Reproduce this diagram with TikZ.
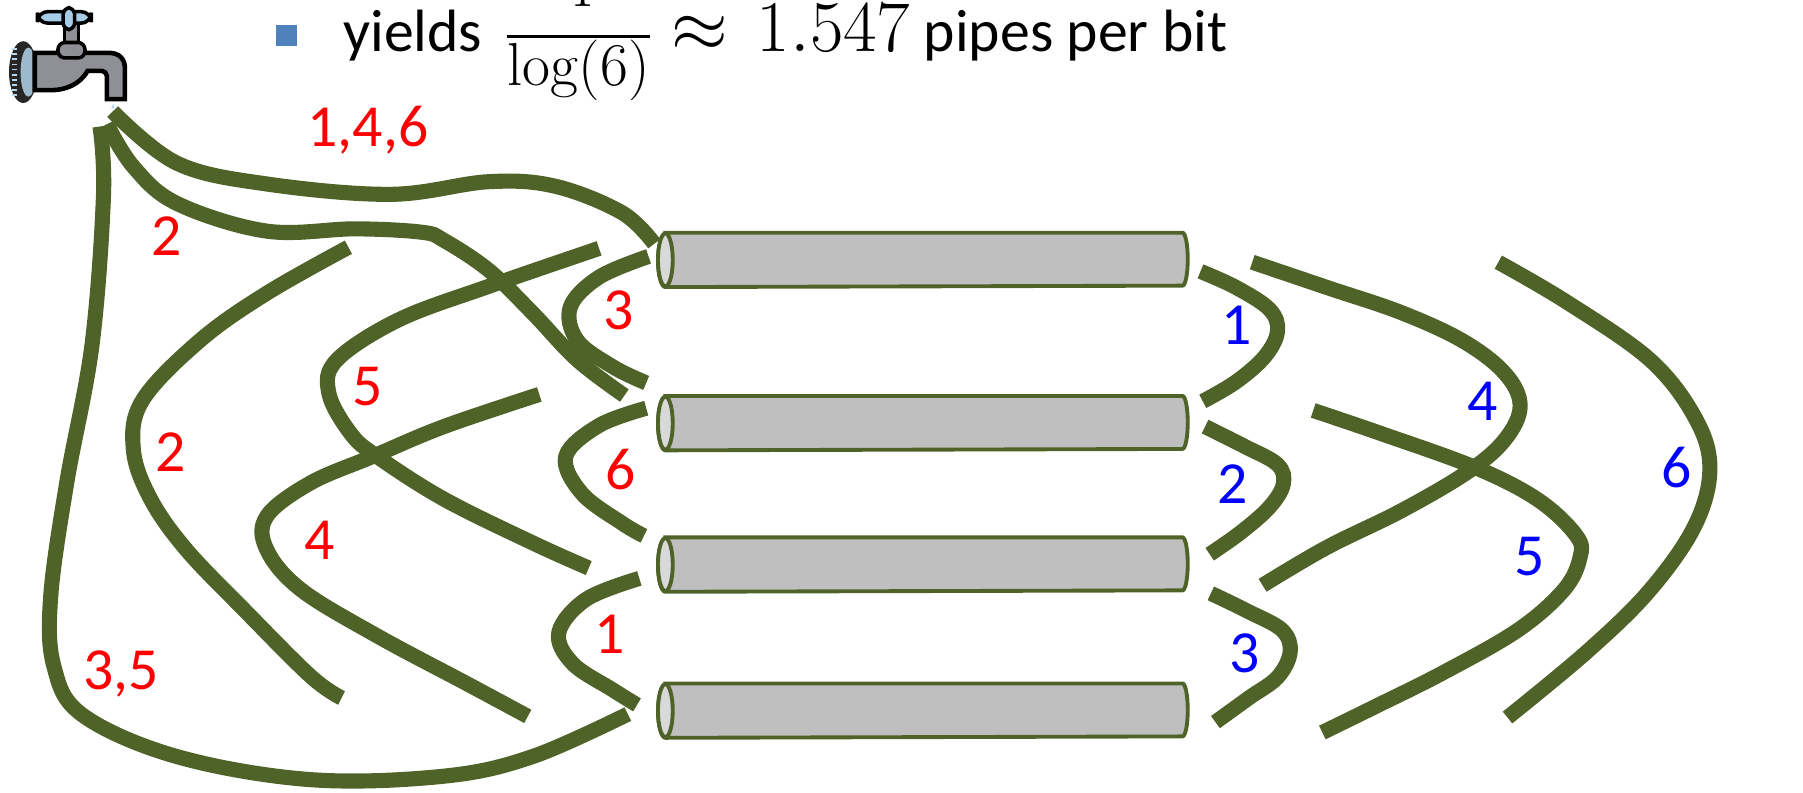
\documentclass[tikz,border=0pt]{standalone}
\usepackage{amsmath}
\usepackage[no-math]{fontspec}
\setmainfont{Carlito}

\definecolor{hosegreen}{RGB}{79,98,40}
\definecolor{pipegray}{RGB}{191,191,191}
\definecolor{pipeend}{RGB}{217,217,217}
\definecolor{bulletblue}{RGB}{79,129,189}
\definecolor{tapgray}{RGB}{142,144,150}
\definecolor{tapblue}{RGB}{166,204,232}

\tikzset{
  hose/.style={draw=hosegreen, line width=4.3pt},
  pipebox/.style={minimum width=5.16cm, minimum height=0.53cm, inner sep=0pt},
  pipeedge/.style={draw=hosegreen, line width=1.1pt},
  inlabel/.style={text=red},
  outlabel/.style={text=blue},
}

\begin{document}
\begin{tikzpicture}[x=0.0115cm, y=-0.0115cm, font=\fontsize{17}{20}\selectfont]
  \useasboundingbox (0,0) rectangle (1568,689);

  % tap
  \begin{scope}[scale=1.12]
    \fill[black!85] (18,56) ellipse[x radius=11, y radius=24];
    \foreach \v in {38,42,...,74} \draw[tapblue!80, line width=0.5pt] (9,\v) -- (13,\v);
    \fill[tapblue!75!gray] (22,56) ellipse[x radius=6, y radius=19];
    \draw[fill=tapgray, line width=1.3pt] (27,41) -- (84,41) .. controls (93,41) and (97,46) .. (97,53)
      -- (97,77) -- (83,77) -- (83,59) .. controls (83,57) and (81,55) .. (79,55) -- (68,55)
      .. controls (62,66) and (50,70) .. (40,70) -- (27,70) -- cycle;
    \draw[fill=tapgray, line width=1pt] (50,18) rectangle (61,38);
    \draw[fill=tapgray, line width=1pt, rounded corners=2pt] (45,33) rectangle (66,45);
    \draw[fill=tapblue, line width=1pt, rounded corners=3pt] (29,9) rectangle (71,18);
    \draw[fill=tapblue, line width=1pt, rounded corners=2pt] (49,6) rectangle (58,23);
    \fill[tapblue!80] (88,80) -- (89,85) arc[start angle=0, end angle=-180, radius=1.3] -- cycle;
  \end{scope}

  % heading
  \fill[bulletblue] (240,22) rectangle (258,40);
  \node[anchor=base west, inner sep=0pt] (yields) at (298,45)
    {yields\hspace{0.35em}{\fontsize{18}{20}\selectfont
     \(\genfrac{}{}{}{1}{\raisebox{6pt}{\(\displaystyle 4\)}}{\displaystyle\log(6)}\)}\hspace{0.3em}%
     {\fontsize{21}{24}\selectfont\(\approx\mkern2mu 1.547\)} pipes per bit};

  % hoses on the left
  \draw[hose] plot[smooth, tension=0.6] coordinates {(98,97) (154,142) (232,160) (340,169) (425,158) (483,162) (541,185) (569,212)};
  \draw[hose] plot[smooth, tension=0.6] coordinates {(93,108) (116,145) (154,177) (232,201) (309,199) (367,202) (386,209) (425,235) (463,272) (502,313) (543,344)};
  \draw[hose] plot[smooth, tension=0.6] coordinates {(87,110) (90,170) (80,300) (58,420) (44,520) (47,580) (72,622) (154,658) (270,678) (386,675) (463,658) (546,621)};
  \draw[hose] plot[smooth, tension=0.6] coordinates {(303,215) (232,255) (174,296) (124,348) (116,391) (131,434) (162,478) (212,530) (270,588) (297,607)};
  \draw[hose] plot[smooth, tension=0.6] coordinates {(521,216) (425,249) (347,278) (293,313) (286,342) (305,377) (328,397) (386,434) (463,472) (512,494)};
  \draw[hose] plot[smooth, tension=0.6] coordinates {(469,343) (386,371) (324,397) (270,420) (232,449) (232,478) (262,513) (328,553) (405,594) (459,623)};
  \draw[hose] plot[smooth, tension=0.6] coordinates {(564,223) (521,241) (496,267) (502,296) (533,319) (562,333)};
  \draw[hose] plot[smooth, tension=0.6] coordinates {(562,355) (521,370) (492,397) (506,429) (541,455) (560,466)};
  \draw[hose] plot[smooth, tension=0.6] coordinates {(556,503) (510,521) (486,550) (498,577) (533,600) (554,613)};

  % hoses on the right
  \draw[hose] plot[smooth, tension=0.6] coordinates {(1044,236) (1075,250) (1104,269) (1111,288) (1100,310) (1075,332) (1046,349)};
  \draw[hose] plot[smooth, tension=0.6] coordinates {(1048,371) (1082,388) (1111,404) (1116,421) (1104,441) (1079,463) (1052,482)};
  \draw[hose] plot[smooth, tension=0.6] coordinates {(1053,516) (1086,532) (1115,548) (1122,567) (1111,589) (1086,607) (1057,628)};
  \draw[hose] plot[smooth, tension=0.6] coordinates {(1089,228) (1154,250) (1219,272) (1273,297) (1309,325) (1322,353) (1309,382) (1277,410) (1219,444) (1154,476) (1098,509)};
  \draw[hose] plot[smooth, tension=0.6] coordinates {(1142,357) (1201,377) (1284,407) (1338,435) (1371,466) (1374,485) (1360,513) (1320,548) (1255,585) (1197,614) (1150,637)};
  \draw[hose] plot[smooth, tension=0.6] coordinates {(1303,228) (1363,263) (1435,313) (1474,363) (1487,407) (1474,457) (1435,513) (1381,566) (1311,624)};

  % pipes
  \foreach \y/\name in {226/p1, 368/p2, 491/p3, 618/p4} {
    \node[pipebox] (\name) at (803.5,\y) {};
    \draw[pipeedge, fill=pipegray] (\name.north west) -- (\name.north east)
      arc[start angle=90, end angle=-90, x radius=1.5pt, y radius=0.265cm]
      -- (\name.south west) arc[start angle=270, end angle=90, x radius=2.1pt, y radius=0.265cm] -- cycle;
    \draw[pipeedge, fill=pipeend] (\name.west) ellipse[x radius=2.1pt, y radius=0.265cm];
  }

  % labels
  \foreach \x/\y/\t [count=\i] in {320/113/{1,4,6}, 145/205/2, 538/270/3, 320/336/5, 148/393/2,
      540/408/6, 278/470/4, 530/552/1, 105/586/{3,5}}
    \node[inlabel] (in\i) at (\x,\y) {\t};
  \foreach \x/\y/\t [count=\i] in {1075/283/1, 1072/421/2, 1082/568/3, 1289/349/4, 1330/484/5, 1458/407/6}
    \node[outlabel] (out\i) at (\x,\y) {\t};
\end{tikzpicture}
\end{document}
